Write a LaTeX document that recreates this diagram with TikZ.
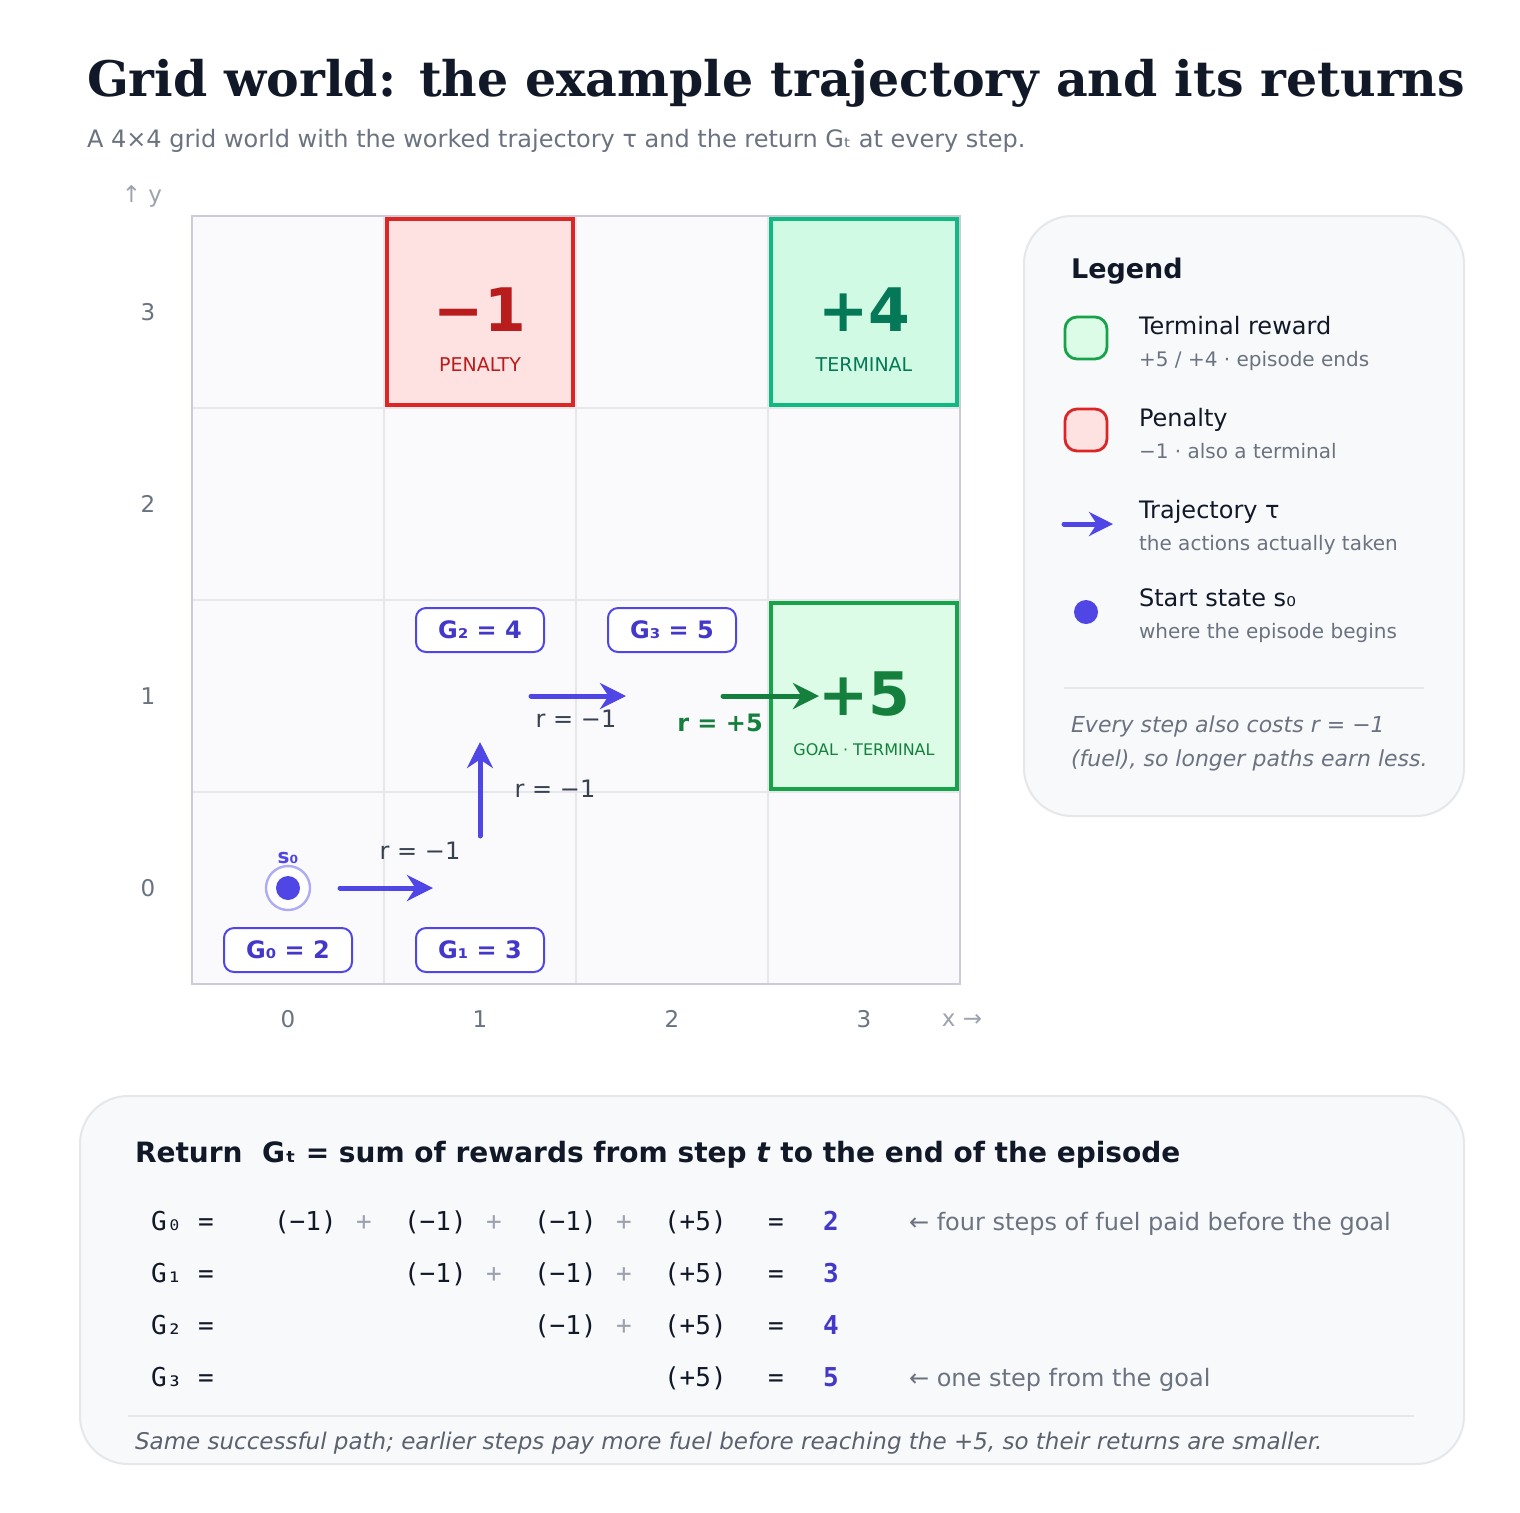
\documentclass[tikz,border=0pt]{standalone}
\usepackage{fontspec}
\setmainfont{DejaVu Sans}
\newfontfamily\serifb{DejaVu Serif}
\newfontfamily\monof{DejaVu Sans Mono}
\usetikzlibrary{arrows.meta}
\definecolor{ind}{HTML}{4F46E5}
\definecolor{indd}{HTML}{4338CA}
\definecolor{ink}{HTML}{111827}
\definecolor{gr}{HTML}{6B7280}
\definecolor{lgr}{HTML}{9CA3AF}
\definecolor{gline}{HTML}{E5E7EB}
\definecolor{gbord}{HTML}{CBCBDA}
\definecolor{cellbg}{HTML}{FAFAFD}
\definecolor{panel}{HTML}{F8F9FB}
\definecolor{redS}{HTML}{DC2626}
\definecolor{redF}{HTML}{FEE2E2}
\definecolor{redT}{HTML}{B91C1C}
\definecolor{grnS}{HTML}{16A34A}
\definecolor{grnF}{HTML}{DCFCE7}
\definecolor{grnT}{HTML}{15803D}
\definecolor{tealS}{HTML}{10B981}
\definecolor{tealF}{HTML}{D1FAE5}
\definecolor{tealT}{HTML}{047857}
\definecolor{txt}{HTML}{374151}
\tikzset{
 traj/.style={ind,line width=2.5pt,line cap=round,-{Stealth[length=13pt,width=13pt]}},
 gbox/.style={draw=ind,fill=white,line width=1pt,rounded corners=5pt,minimum width=64pt,minimum height=22pt,text=indd,font=\fontsize{12}{14}\selectfont\bfseries},
 rlab/.style={text=txt,font=\fontsize{12}{14}\selectfont},
 axl/.style={text=gr,font=\fontsize{11.5}{14}\selectfont},
 mono/.style={font=\monof\fontsize{13}{15}\selectfont,text=ink,anchor=base west},
 plus/.style={font=\monof\fontsize{13}{15}\selectfont,text=lgr,anchor=base},
 res/.style={font=\monof\fontsize{13}{15}\selectfont\bfseries,text=indd,anchor=base},
}
\begin{document}
\begin{tikzpicture}[x=0.5pt,y=-0.5pt]
\useasboundingbox[fill=white] (0,0) rectangle (1520,1512);
% title
\node[anchor=base west,text=ink,font=\serifb\bfseries\fontsize{24.5}{28}\selectfont] (title) at (80,96) {Grid world: the example trajectory and its returns};
\node[anchor=base west,text=gr,font=\fontsize{12}{14}\selectfont] (sub) at (80,147) {A 4×4 grid world with the worked trajectory τ and the return Gₜ at every step.};
% grid
\fill[cellbg] (192,216) rectangle (960,984);
\foreach \v in {384,576,768} {\draw[gline,line width=1pt] (\v,216) -- (\v,984); \draw[gline,line width=1pt] (192,\v+24) -- (960,\v+24);}
\draw[gbord,line width=1.2pt] (192,216) rectangle (960,984);
% special cells
\draw[redS,fill=redF,line width=1.6pt] (387,219) rectangle (573,405);
\node[text=redT,font=\bfseries\fontsize{30}{32}\selectfont] (pen) at (480,310) {−1};
\node[text=redT,font=\fontsize{9.5}{11}\selectfont] (penl) at (480,365) {PENALTY};
\draw[tealS,fill=tealF,line width=1.6pt] (771,219) rectangle (957,405);
\node[text=tealT,font=\bfseries\fontsize{30}{32}\selectfont] (t4) at (864,310) {+4};
\node[text=tealT,font=\fontsize{9.5}{11}\selectfont] (t4l) at (864,365) {TERMINAL};
\draw[grnS,fill=grnF,line width=1.6pt] (771,603) rectangle (957,789);
\node[text=grnT,font=\bfseries\fontsize{30}{32}\selectfont] (t5) at (864,694) {+5};
\node[text=grnT,font=\fontsize{8}{10}\selectfont] (t5l) at (864,750) {GOAL · TERMINAL};
% axes
\node[text=lgr,font=\fontsize{11.5}{14}\selectfont] (ya) at (142,196) {↑ y};
\node[text=lgr,font=\fontsize{11.5}{14}\selectfont] (xa) at (962,1020) {x →};
\foreach \i/\yy in {3/312,2/504,1/696,0/888} \node[axl] (y\i) at (148,\yy) {\i};
\foreach \i/\xx in {0/288,1/480,2/672,3/864} \node[axl] (x\i) at (\xx,1019) {\i};
% start
\draw[ind!45,line width=1.2pt,fill=white] (288,888) circle (22);
\fill[ind] (288,888) circle (12);
\node[text=ind,font=\bfseries\fontsize{10}{12}\selectfont] (s0) at (288,858) {s₀};
% trajectory
\coordinate (a0) at (340,888); \coordinate (a1) at (433,888);
\coordinate (b0) at (480,836); \coordinate (b1) at (480,742);
\coordinate (c0) at (531,696); \coordinate (c1) at (626,696);
\coordinate (d0) at (723,696); \coordinate (d1) at (819,696);
\draw[traj] (a0) -- (a1);
\draw[traj] (b0) -- (b1);
\draw[traj] (c0) -- (c1);
\draw[traj,draw=grnT,-{Stealth[length=13pt,width=13pt,fill=grnT]}] (d0) -- (d1);
\node[rlab] (r1) at (420,851) {r = −1};
\node[rlab] (r2) at (555,789) {r = −1};
\node[rlab] (r3) at (576,719) {r = −1};
\node[text=grnT,font=\bfseries\fontsize{12}{14}\selectfont] (r4) at (720,723) {r = +5};
% G boxes
\node[gbox] (g0) at (288,950) {G₀ = 2};
\node[gbox] (g1) at (480,950) {G₁ = 3};
\node[gbox] (g2) at (480,630) {G₂ = 4};
\node[gbox] (g3) at (672,630) {G₃ = 5};
% legend
\draw[gline,fill=panel,line width=1pt,rounded corners=24] (1024,216) rectangle (1464,816);
\node[anchor=base west,text=ink,font=\bfseries\fontsize{13.5}{16}\selectfont] (lt) at (1064,278) {Legend};
\draw[grnS,fill=grnF,line width=1.4pt,rounded corners=6] (1065,317) rectangle (1107,359);
\draw[redS,fill=redF,line width=1.4pt,rounded corners=6] (1065,409) rectangle (1107,451);
\coordinate (la0) at (1064,524); \coordinate (la1) at (1113,524);
\draw[traj,-{Stealth[length=12pt,width=12pt]}] (la0) -- (la1);
\fill[ind] (1086,612) circle (12);
\tikzset{lm/.style={anchor=base west,text=ink,font=\fontsize{12}{14}\selectfont},ls/.style={anchor=base west,text=gr,font=\fontsize{10}{12}\selectfont}}
\node[lm] (l1) at (1132,334) {Terminal reward};
\node[ls] (l1s) at (1132,366) {+5 / +4 · episode ends};
\node[lm] (l2) at (1132,426) {Penalty};
\node[ls] (l2s) at (1132,458) {−1 · also a terminal};
\node[lm] (l3) at (1132,518) {Trajectory τ};
\node[ls] (l3s) at (1132,550) {the actions actually taken};
\node[lm] (l4) at (1132,606) {Start state s₀};
\node[ls] (l4s) at (1132,638) {where the episode begins};
\draw[gline,line width=1pt] (1064,688) -- (1424,688);
\node[anchor=base west,text=gr,font=\itshape\fontsize{11}{13}\selectfont] (ln1) at (1064,732) {Every step also costs r = −1};
\node[anchor=base west,text=gr,font=\itshape\fontsize{11}{13}\selectfont] (ln2) at (1064,766) {(fuel), so longer paths earn less.};
% bottom panel
\draw[gline,fill=panel,line width=1pt,rounded corners=24] (80,1096) rectangle (1464,1464);
\node[anchor=base west,text=ink,font=\bfseries\fontsize{14}{16}\selectfont] (rt) at (128,1162) {Return\ \ Gₜ = sum of rewards from step \textit{t} to the end of the episode};
\foreach \r/\yy in {0/1230,1/1282,2/1334,3/1386} {
 \node[mono] at (144,\yy) {G\ifcase\r ₀\or ₁\or ₂\or ₃\fi\ =};
 \node[plus] at (776,\yy) {\textcolor{ink}{=}};
 \node[mono] at (657,\yy) {(+5)};
}
\node[mono] at (267,1230) {(−1)};
\foreach \yy in {1230,1282} \node[mono] at (397,\yy) {(−1)};
\foreach \yy in {1230,1282,1334} \node[mono] at (527,\yy) {(−1)};
\node[plus] at (364,1230) {+};
\foreach \yy in {1230,1282} \node[plus] at (494,\yy) {+};
\foreach \yy in {1230,1282,1334} \node[plus] at (624,\yy) {+};
\node[res] (v0) at (831,1230) {2};
\node[res] (v1) at (831,1282) {3};
\node[res] (v2) at (831,1334) {4};
\node[res] (v3) at (831,1386) {5};
\node[anchor=base west,text=gr,font=\fontsize{12}{14}\selectfont] (c0) at (902,1230) {← four steps of fuel paid before the goal};
\node[anchor=base west,text=gr,font=\fontsize{12}{14}\selectfont] (c3) at (902,1386) {← one step from the goal};
\draw[gline,line width=1pt] (128,1416) -- (1414,1416);
\node[anchor=base west,text=gr!85!black,font=\itshape\fontsize{11.5}{14}\selectfont] (foot) at (128,1449) {Same successful path; earlier steps pay more fuel before reaching the +5, so their returns are smaller.};
\end{tikzpicture}
\end{document}
